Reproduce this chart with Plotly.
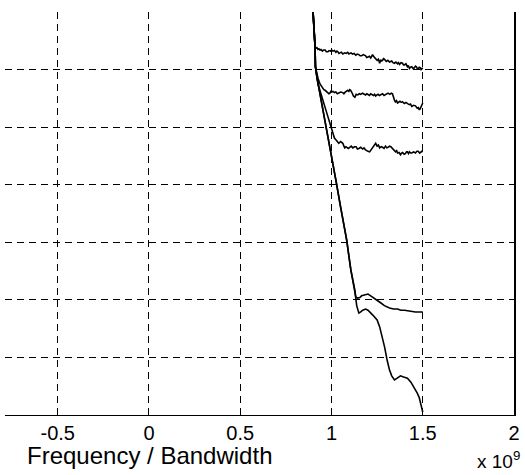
import plotly.graph_objects as go

# Data (x in units of 1e9, y in dB)
xA = [0.899, 0.905, 0.910, 0.915, 0.920, 0.926, 0.931, 0.937, 0.943, 0.950, 0.957, 0.965, 0.972, 0.980,
      0.987, 0.995, 1.001, 1.008, 1.016, 1.024, 1.030, 1.035, 1.041, 1.046, 1.054, 1.062, 1.068, 1.073,
      1.080, 1.089, 1.095, 1.100, 1.107, 1.115, 1.124, 1.133, 1.141, 1.150, 1.157, 1.165, 1.175, 1.187,
      1.193, 1.200, 1.208, 1.215, 1.220, 1.225, 1.230, 1.236, 1.243, 1.250, 1.257, 1.264, 1.270, 1.275,
      1.280, 1.285, 1.290, 1.295, 1.300, 1.309, 1.318, 1.324, 1.330, 1.337, 1.345, 1.353, 1.362, 1.367,
      1.373, 1.381, 1.389, 1.395, 1.400, 1.408, 1.416, 1.421, 1.427, 1.433, 1.440, 1.447, 1.454, 1.460,
      1.465, 1.470, 1.475, 1.481, 1.487, 1.491, 1.495, 1.500]
yA = [0.0, -3.0, -6.1, -6.3, -6.2, -6.5, -6.4, -6.6, -6.5, -6.8, -6.6, -6.6, -6.9, -6.9,
      -6.7, -6.8, -6.6, -6.8, -6.7, -7.0, -6.8, -6.9, -7.2, -7.1, -7.0, -7.3, -7.2, -7.1,
      -7.2, -7.0, -7.3, -7.2, -7.1, -7.3, -7.2, -7.5, -7.3, -7.4, -7.6, -7.6, -7.4, -7.6,
      -7.9, -7.8, -7.7, -8.0, -7.5, -7.4, -7.7, -7.9, -8.1, -8.4, -8.2, -8.9, -8.3, -8.5,
      -8.4, -8.1, -8.2, -8.4, -8.6, -8.4, -8.7, -8.6, -8.5, -8.8, -8.9, -8.7, -9.0, -8.8,
      -9.1, -8.8, -8.9, -9.2, -9.2, -9.0, -9.5, -9.3, -9.8, -9.6, -9.5, -9.8, -9.7, -9.4,
      -9.5, -9.8, -9.9, -9.6, -9.7, -10.0, -9.9, -9.7]

xB = [0.899, 0.905, 0.910, 0.912, 0.919, 0.926, 0.937, 0.944, 0.950, 0.958, 0.965, 0.972, 0.980, 0.986,
      0.991, 0.996, 1.000, 1.008, 1.016, 1.024, 1.032, 1.040, 1.050, 1.062, 1.068, 1.075, 1.082, 1.089,
      1.095, 1.100, 1.105, 1.110, 1.115, 1.120, 1.128, 1.135, 1.144, 1.152, 1.160, 1.170, 1.179, 1.187,
      1.194, 1.200, 1.208, 1.215, 1.222, 1.230, 1.236, 1.242, 1.249, 1.255, 1.262, 1.270, 1.280, 1.288,
      1.296, 1.303, 1.310, 1.320, 1.328, 1.334, 1.340, 1.345, 1.350, 1.356, 1.362, 1.368, 1.375, 1.382,
      1.389, 1.395, 1.400, 1.408, 1.416, 1.421, 1.427, 1.433, 1.440, 1.450, 1.460, 1.465, 1.470, 1.476,
      1.481, 1.486, 1.490, 1.495, 1.500]
yB = [0.0, -3.0, -6.1, -9.5, -10.6, -11.5, -12.5, -12.9, -13.2, -13.5, -13.6, -13.8, -13.9, -14.2,
      -14.1, -13.8, -13.9, -13.8, -14.0, -13.9, -14.2, -14.1, -13.9, -14.0, -14.2, -13.9, -13.7, -13.6,
      -13.8, -13.5, -13.6, -13.8, -14.2, -14.6, -14.8, -14.3, -14.4, -14.2, -14.3, -14.1, -14.3, -14.4,
      -14.2, -14.3, -14.5, -14.2, -14.4, -14.5, -14.3, -14.6, -14.4, -14.3, -14.5, -14.4, -14.2, -14.5,
      -14.4, -14.2, -14.1, -14.3, -14.1, -14.2, -15.0, -15.3, -15.6, -15.4, -15.8, -15.6, -15.5, -15.7,
      -15.6, -15.8, -15.9, -15.7, -15.8, -16.0, -16.1, -16.0, -16.4, -16.2, -16.3, -16.5, -16.7, -16.6,
      -17.0, -16.8, -16.5, -16.2, -15.8]

xC = [0.899, 0.905, 0.910, 0.912, 0.926, 0.969, 1.000, 1.008, 1.016, 1.024, 1.032, 1.040, 1.050, 1.062,
      1.068, 1.073, 1.079, 1.085, 1.092, 1.100, 1.108, 1.117, 1.126, 1.135, 1.142, 1.150, 1.160, 1.171,
      1.178, 1.185, 1.192, 1.200, 1.209, 1.217, 1.225, 1.233, 1.242, 1.250, 1.257, 1.264, 1.272, 1.280,
      1.288, 1.296, 1.303, 1.310, 1.318, 1.325, 1.333, 1.340, 1.346, 1.351, 1.357, 1.362, 1.370, 1.378,
      1.384, 1.390, 1.398, 1.405, 1.411, 1.416, 1.422, 1.427, 1.434, 1.440, 1.450, 1.460, 1.468, 1.475,
      1.483, 1.490, 1.495, 1.500]
yC = [0.0, -3.0, -6.1, -9.5, -12.5, -17.0, -20.5, -21.4, -21.9, -22.2, -22.6, -22.8, -22.5, -22.8,
      -23.3, -23.6, -23.4, -23.5, -23.7, -23.5, -23.3, -23.6, -23.4, -23.4, -23.8, -23.7, -23.5, -23.8,
      -23.6, -23.9, -24.1, -24.2, -24.3, -23.9, -23.6, -23.2, -22.8, -23.3, -23.1, -23.6, -23.4, -23.5,
      -23.7, -23.3, -23.6, -23.5, -23.3, -23.4, -23.7, -23.9, -24.2, -24.3, -24.1, -24.5, -24.4, -24.8,
      -24.5, -24.4, -24.7, -24.6, -24.3, -24.3, -24.6, -24.3, -24.5, -24.5, -24.3, -24.5, -24.2, -24.2,
      -24.5, -24.4, -24.2, -24.3]

xD = [0.899, 0.905, 0.910, 0.912, 0.920, 0.953, 0.980, 1.003, 1.024, 1.050, 1.083, 1.106, 1.117, 1.128,
      1.138, 1.150, 1.160, 1.171, 1.187, 1.200, 1.225, 1.250, 1.264, 1.280, 1.291, 1.305, 1.318, 1.330,
      1.345, 1.360, 1.378, 1.395, 1.416, 1.435, 1.454, 1.470, 1.481, 1.492, 1.500]
yD = [0.0, -3.0, -6.1, -9.5, -11.3, -17.0, -21.5, -25.7, -29.2, -33.9, -39.6, -44.8, -46.5, -48.3,
      -51.0, -52.3, -52.1, -51.8, -51.6, -51.8, -52.6, -53.5, -54.7, -56.5, -58.2, -60.5, -62.2, -63.2,
      -63.9, -63.6, -63.2, -63.4, -63.6, -64.3, -65.3, -66.2, -67.0, -68.3, -69.5]

xE = [0.899, 0.905, 0.910, 0.912, 0.920, 0.953, 0.980, 1.003, 1.024, 1.050, 1.083, 1.106, 1.117, 1.128,
      1.133, 1.144, 1.155, 1.165, 1.182, 1.200, 1.215, 1.236, 1.255, 1.269, 1.290, 1.318, 1.340, 1.362,
      1.380, 1.400, 1.416, 1.440, 1.460, 1.480, 1.500]
yE = [0.0, -3.0, -6.1, -9.5, -11.3, -17.0, -21.5, -25.7, -29.2, -33.9, -39.6, -44.8, -46.5, -48.3,
      -49.5, -49.7, -49.6, -49.3, -49.1, -49.0, -49.3, -49.7, -50.2, -50.5, -51.0, -51.4, -51.6, -51.6,
      -51.8, -51.8, -51.9, -52.0, -52.1, -52.1, -52.1]

x_ticks = [-0.5, 0, 0.5, 1, 1.5, 2]
x_tick_text = ["-0.5", "0", "0.5", "1", "1.5", "2"]
y_grid = [-60, -50, -40, -30, -20, -10]

FONT = "Liberation Sans, Arial, sans-serif"

fig = go.Figure()
for xs, ys in [(xA, yA), (xB, yB), (xC, yC), (xE, yE), (xD, yD)]:
    fig.add_trace(go.Scatter(x=xs, y=ys, mode="lines",
                             line=dict(color="black", width=1.6),
                             showlegend=False, hoverinfo="skip"))

fig.update_layout(
    width=525, height=475,
    margin=dict(l=5, r=8, t=12, b=60),
    paper_bgcolor="white", plot_bgcolor="white",
    font=dict(family=FONT, color="black", size=20),
    xaxis=dict(range=[-0.789, 2.0], tickvals=x_ticks, ticktext=x_tick_text,
               showgrid=True, gridcolor="black", gridwidth=1, griddash="7px,5px",
               showline=True, linecolor="black", linewidth=1.2, zeroline=False,
               ticks="", tickfont=dict(size=20, family=FONT, color="black")),
    yaxis=dict(range=[-70, 0], tickvals=y_grid, showticklabels=False, side="right",
               showgrid=True, gridcolor="black", gridwidth=1, griddash="7px,5px",
               showline=True, linecolor="black", linewidth=1.5, zeroline=False, ticks=""),
    annotations=[
        dict(text="Frequency / Bandwidth", xref="paper", yref="paper",
             x=(150 - 5) / 512, y=-0.1, xanchor="center", yanchor="middle",
             showarrow=False, font=dict(size=24, family=FONT, color="black")),
        dict(text="x 10<sup>9</sup>", xref="paper", yref="paper",
             x=1.016, y=-0.112, xanchor="right", yanchor="middle",
             showarrow=False, font=dict(size=19, family=FONT, color="black")),
    ],
)

fig.write_html("out.html")
